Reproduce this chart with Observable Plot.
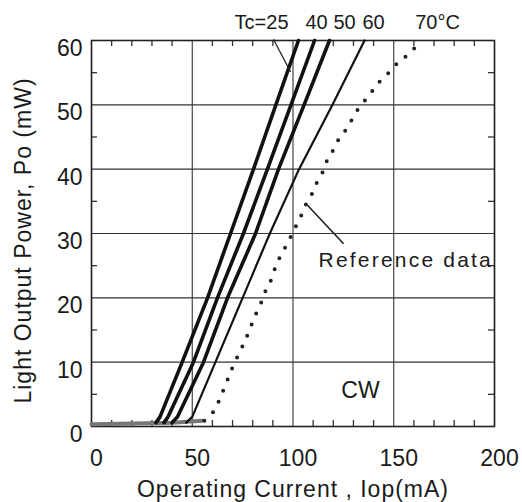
<!DOCTYPE html>
<html>
<head>
<meta charset="utf-8">
<script src="https://cdn.jsdelivr.net/npm/d3@7"></script>
<script src="https://cdn.jsdelivr.net/npm/@observablehq/plot@0.6"></script>
<style>
  html, body { margin: 0; padding: 0; background: #fff; }
  svg { display: block; }
</style>
</head>
<body>
<div id="chart"></div>
<script>
// ---- data ----
const powerLevels = [0.6, 1.5, 10, 20, 30, 40, 50, 60];          // mW
const currentTc25 = [32, 34, 45, 57.6, 69, 80.4, 91.5, 102.7];    // mA
const currentTc40 = [36, 38, 50.6, 62.5, 75.4, 87.3, 99, 110.7];
const currentTc50 = [40, 42.7, 55.6, 67.5, 81.4, 92.8, 105.5, 118.1];
const currentTc60 = [47, 50, 61.5, 75, 88.5, 103, 119.6, 135.5];

const refCurrent = [56, 60.5, 65.5, 70, 75.4, 77.4, 79.4, 81.9, 84.4, 86.8, 89.3, 91.3, 93.8, 96.8,
                    102, 104.7, 107, 110, 112, 115, 117, 120, 122.6, 126.6, 132, 136, 139.5, 142.4,
                    146.9, 150.9, 154.8, 159.3, 163.3];
const refPower   = [0.9, 2.3, 5.7, 9.2, 12.8, 14.2, 15.8, 17.7, 19.4, 21.4, 22.9, 24.8, 26.5, 28.2,
                    31.5, 33.2, 34.9, 36.5, 38, 39.7, 41.4, 43, 44.6, 46.3, 49.2, 50.8, 52.2, 53.4,
                    54.8, 56.2, 57.2, 58.5, 59.7];

const baseCurrent = [0, 20, 40, 55];
const basePower   = [0.35, 0.45, 0.6, 0.9];

const xTicks = [0, 50, 100, 150, 200];
const yTicks = [0, 10, 20, 30, 40, 50, 60];
const xMinor = [10, 20, 30, 40, 60, 70, 80, 90, 110, 120, 130, 140, 160, 170, 180, 190];
const yMinor = [5, 15, 25, 35, 45, 55];

const tempLabels = ["Tc=25", "40", "50", "60", "70°C"];
const tempLabelX = [84.4, 111.7, 125.6, 140, 171.7];
const tempLabelY = [62.8, 62.8, 62.8, 62.8, 62.8];

const xTitle = "Operating Current , Iop(mA)";
const yTitle = "Light Output Power, Po (mW)";
const refLabel = "Reference data";
const modeLabel = "CW";

// ---- build tables ----
const solid = [
  {name: "25", I: currentTc25, w: 3.6},
  {name: "40", I: currentTc40, w: 3.6},
  {name: "50", I: currentTc50, w: 3.6},
  {name: "60", I: currentTc60, w: 2.2}
];
const solidRows = solid.flatMap(s => s.I.map((I, i) => ({series: s.name, I, P: powerLevels[i], w: s.w})));
const refRows = refCurrent.map((I, i) => ({I, P: refPower[i]}));
const baseRows = baseCurrent.map((I, i) => ({I, P: basePower[i]}));
const labelRows = tempLabels.map((t, i) => ({t, I: tempLabelX[i], P: tempLabelY[i]}));

const W = 522, H = 502, mL = 91, mR = 28, mT = 40, mB = 76;
const fw = W - mL - mR, fh = H - mT - mB, tick = 6;
const font = "Liberation Sans, Arial, Helvetica, sans-serif";
const ink = "#1a1a1a";

const chart = Plot.plot({
  width: W,
  height: H,
  marginLeft: mL,
  marginRight: mR,
  marginTop: mT,
  marginBottom: mB,
  style: {fontFamily: font, background: "#fff", color: ink},
  x: {domain: [0, 200]},
  y: {domain: [0, 60]},
  marks: [
    Plot.gridX(xTicks, {stroke: "#333", strokeOpacity: 1, strokeWidth: 1.1}),
    Plot.gridY(yTicks, {stroke: "#333", strokeOpacity: 1, strokeWidth: 1.1}),
    Plot.tickX(xMinor, {x: d => d, insetTop: fh - tick, stroke: "#333", strokeWidth: 1.3}),
    Plot.tickX(xMinor, {x: d => d, insetBottom: fh - tick, stroke: "#333", strokeWidth: 1.3}),
    Plot.tickY(yMinor, {y: d => d, insetRight: fw - tick, stroke: "#333", strokeWidth: 1.3}),
    Plot.tickY(yMinor, {y: d => d, insetLeft: fw - tick, stroke: "#333", strokeWidth: 1.3}),
    Plot.axisX({ticks: xTicks, anchor: "bottom", tickSize: 0, tickPadding: 23, fontSize: 23, dx: 5, label: null, fill: ink}),
    Plot.axisY({ticks: yTicks, anchor: "left", tickSize: 0, tickPadding: 9, fontSize: 23, dy: 8, label: null, fill: ink}),
    Plot.frame({stroke: "#222", strokeWidth: 1.6}),
    Plot.line(baseRows, {x: "I", y: "P", stroke: "#777", strokeWidth: 4}),
    Plot.line(solidRows, {x: "I", y: "P", z: "series", stroke: "#111", strokeWidth: d => d.w}),
    Plot.line(refRows, {x: "I", y: "P", stroke: "#222", strokeWidth: 4, strokeDasharray: "0,12", strokeLinecap: "round", curve: "catmull-rom"}),
    Plot.link({length: 1}, {x1: [90.3], y1: [60.2], x2: [98.8], y2: [55.1], stroke: "#222", strokeWidth: 1.3}),
    Plot.link({length: 1}, {x1: [107.2], y1: [34.4], x2: [125.1], y2: [28.4], stroke: "#222", strokeWidth: 1.6}),
    Plot.text(labelRows, {x: "I", y: "P", text: "t", fontSize: 20, fill: ink}),
    Plot.text([refLabel], {x: [112.7], y: [25.8], text: d => d, textAnchor: "start", fontSize: 21, fill: ink}),
    Plot.text([modeLabel], {x: [133.5], y: [5.6], text: d => d, fontSize: 23, fill: ink}),
    Plot.text([xTitle], {frameAnchor: "bottom", dy: 70, textAnchor: "middle", text: d => d, fontSize: 23, fill: ink}),
    Plot.text([yTitle], {frameAnchor: "left", dx: -68, dy: 7, textAnchor: "middle", rotate: -90, text: d => d, fontSize: 23, fill: ink})
  ]
});

// widen the spacing of a few texts, as in the scanned original
d3.select(chart).selectAll("text").each(function() {
  const t = this.textContent;
  if (t === refLabel) this.setAttribute("letter-spacing", "2.2");
  if (t === xTitle || t === yTitle) this.setAttribute("letter-spacing", "1");
});
document.getElementById("chart").appendChild(chart);
</script>
</body>
</html>
